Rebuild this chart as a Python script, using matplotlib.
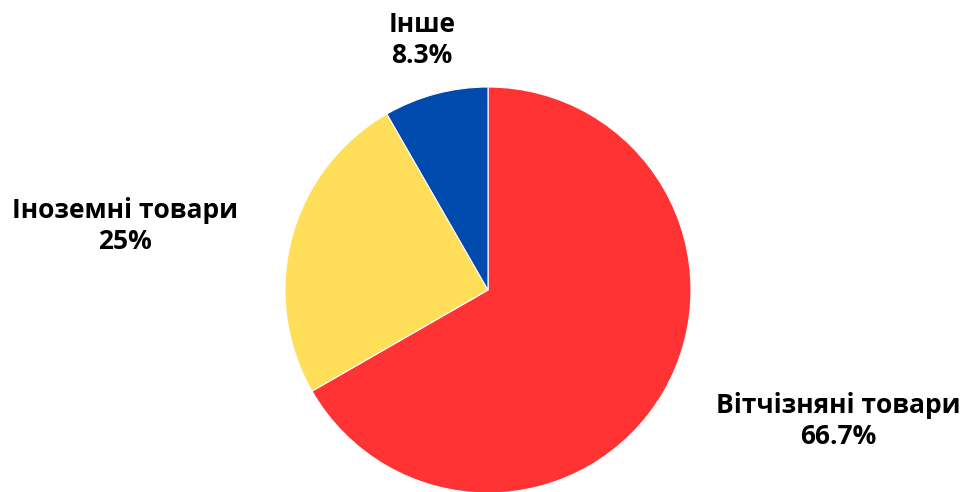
import matplotlib.pyplot as plt

labels = ['Вітчізняні товари', 'Іноземні товари', 'Інше']
values = [66.7, 25, 8.3]
colors = ['#FF3333', '#FFDE59', '#004AAD']

# label anchor points (pixels, y down)
label_pos = [(838, 421), (125, 226), (422, 40)]

plt.rcParams['font.family'] = ['Open Sans', 'DejaVu Sans']

fig = plt.figure(figsize=(9.66, 4.92), dpi=100)
ax = fig.add_axes([0, 0, 1, 1])
ax.set_xlim(0, 966)
ax.set_ylim(492, 0)
ax.set_aspect('equal')
ax.axis('off')

cx, cy, r = 488, 290, 203
wedges, _ = ax.pie(values, colors=colors, startangle=90, counterclock=False,
                   center=(cx, -cy), radius=r,
                   wedgeprops=dict(edgecolor='white', linewidth=0.8))
# pie drawn with y up; flip wedges onto the inverted axis
for w in wedges:
    w.set_center((cx, cy))
    t1, t2 = w.theta1, w.theta2
    w.set_theta1(-t2)
    w.set_theta2(-t1)

for lab, val, (x, y) in zip(labels, values, label_pos):
    txt = f'{val:g}%'
    ax.text(x, y, f'{lab}\n{txt}', ha='center', va='center',
            fontsize=19, fontweight='bold', linespacing=1.2, color='#000000')

ax.set_xlim(0, 966)
ax.set_ylim(492, 0)
fig.savefig('out.png', dpi=100)
